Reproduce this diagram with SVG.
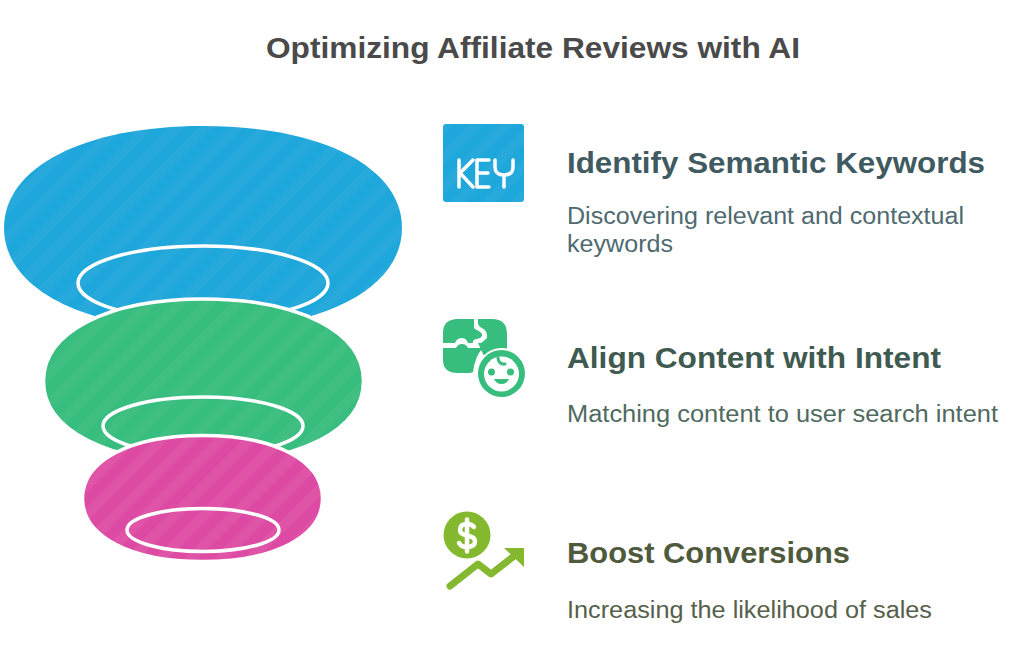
<svg xmlns="http://www.w3.org/2000/svg" width="1024" height="669" viewBox="0 0 1024 669">
<style>
.title{font:bold 29px "Liberation Sans",Arial,sans-serif;fill:#4a4a4a}
.h{font:bold 29px "Liberation Sans",Arial,sans-serif}
.d{font:23.5px "Liberation Sans",Arial,sans-serif}
.ring{fill:none;stroke:#fff;stroke-width:3.5}
.edge{stroke:#fff;stroke-width:3.5}
</style>
<defs>
<pattern id="sb" width="21" height="21" patternUnits="userSpaceOnUse" patternTransform="rotate(45)"><rect width="21" height="21" fill="#1ea7db"/><rect width="10" height="21" fill="#27a9db"/></pattern>
<pattern id="sg" width="21" height="21" patternUnits="userSpaceOnUse" patternTransform="rotate(45)"><rect width="21" height="21" fill="#37bd7d"/><rect width="10" height="21" fill="#3fbf82"/></pattern>
<pattern id="sp" width="21" height="21" patternUnits="userSpaceOnUse" patternTransform="rotate(45)"><rect width="21" height="21" fill="#dd4aa3"/><rect width="10" height="21" fill="#e054a8"/></pattern>
</defs>
<rect width="1024" height="669" fill="#fff"/>
<text class="title" x="266" y="58" textLength="534" lengthAdjust="spacingAndGlyphs">Optimizing Affiliate Reviews with AI</text>

<g id="funnel-blue">
<path d="M4 228C4 167 84 126 203 126C322 126 402 167 402 228C402 289 322 330 203 330C84 330 4 289 4 228Z" fill="url(#sb)"/>
<ellipse class="ring" cx="203" cy="283" rx="125" ry="37"/>
</g>
<g id="funnel-green">
<path class="edge" d="M43.500 381C43.500 332 107.500 299 203.500 299C299.500 299 363.500 332 363.500 381C363.500 430 299.500 463 203.500 463C107.500 463 43.500 430 43.500 381Z" fill="url(#sg)"/>
<ellipse class="ring" cx="203" cy="426" rx="100" ry="29"/>
</g>
<g id="funnel-pink">
<path class="edge" d="M82.500 498.500C82.500 460.500 130.500 435.500 202.500 435.500C274.500 435.500 322.500 460.500 322.500 498.500C322.500 536.500 274.500 561.500 202.500 561.500C130.500 561.500 82.500 536.500 82.500 498.500Z" fill="url(#sp)"/>
<ellipse class="ring" cx="203" cy="530" rx="76" ry="21.500"/>
</g>

<g id="step-keywords">
<rect x="443" y="124" width="81" height="78" rx="3" fill="url(#sb)"/>
<path d="M459 160V187M473 160L460 173L473 187M489 160H477V187H489M477 173H488M495 160V167Q495 175 504 175Q513 175 513 167V160M504 175V187" fill="none" stroke="#fff" stroke-width="3.500" stroke-linecap="round" stroke-linejoin="round"/>
<text class="h" x="567" y="173" fill="#3f5a60" textLength="418" lengthAdjust="spacingAndGlyphs">Identify Semantic Keywords</text>
<text class="d" x="567" y="224" fill="#4f6a70" textLength="397" lengthAdjust="spacingAndGlyphs">Discovering relevant and contextual</text>
<text class="d" x="567" y="252" fill="#4f6a70" textLength="106" lengthAdjust="spacingAndGlyphs">keywords</text>
</g>

<g id="step-intent">
<path d="M443 343V333Q443 319 458 319H474V325Q473 329 477 330Q483 333 482 336Q480 339 476 339Q472 340 473 343H468Q466 338 462 338Q457 338 455 343Z" fill="#37bd7d"/>
<path d="M478 319H492Q507 319 507 334V350Q494 349 484 356L478 343H481Q484 341 487 338Q488 331 482 328Q478 326 478 323Z" fill="#37bd7d"/>
<path d="M443 348H456Q458 344 462 344Q466 344 468 348H483Q475 356 473 372L470 373H458Q443 373 443 360Z" fill="#37bd7d"/>
<circle cx="501.500" cy="373.500" r="25.500" fill="#fff"/>
<circle cx="501.500" cy="373.500" r="23.500" fill="#37bd7d"/>
<circle cx="501.500" cy="374" r="17.500" fill="#fff"/>
<path d="M498 358Q499 365 505 364" fill="none" stroke="#37bd7d" stroke-width="3" stroke-linecap="round"/>
<circle cx="491.500" cy="372" r="3.500" fill="#37bd7d"/>
<circle cx="510.500" cy="372" r="3.500" fill="#37bd7d"/>
<path d="M494 379H509Q507 384 501.500 384Q496 384 494 379Z" fill="#37bd7d"/>
<text class="h" x="567" y="368" fill="#3f5a50" textLength="374" lengthAdjust="spacingAndGlyphs">Align Content with Intent</text>
<text class="d" x="567" y="422" fill="#4f6a60" textLength="431" lengthAdjust="spacingAndGlyphs">Matching content to user search intent</text>
</g>

<g id="step-conversions">
<circle cx="467" cy="535" r="23.500" fill="#84b92f"/>
<path d="M474 527Q472 524 467 524Q460 524 460 530Q460 534 467 535.500Q475 537 475 541Q475 547 467 547Q461 547 459 543M467 519.500V551.500" fill="none" stroke="#fff" stroke-width="4.500" stroke-linecap="round"/>
<path d="M450 586L478 564L491 574L518 553" fill="none" stroke="#84b92f" stroke-width="7" stroke-linecap="round" stroke-linejoin="round"/>
<path d="M504 548H524V567Z" fill="#84b92f"/>
<text class="h" x="567" y="563" fill="#4f5a3c" textLength="283" lengthAdjust="spacingAndGlyphs">Boost Conversions</text>
<text class="d" x="567" y="618" fill="#56604a" textLength="365" lengthAdjust="spacingAndGlyphs">Increasing the likelihood of sales</text>
</g>
<g id="connectors"></g>
</svg>
